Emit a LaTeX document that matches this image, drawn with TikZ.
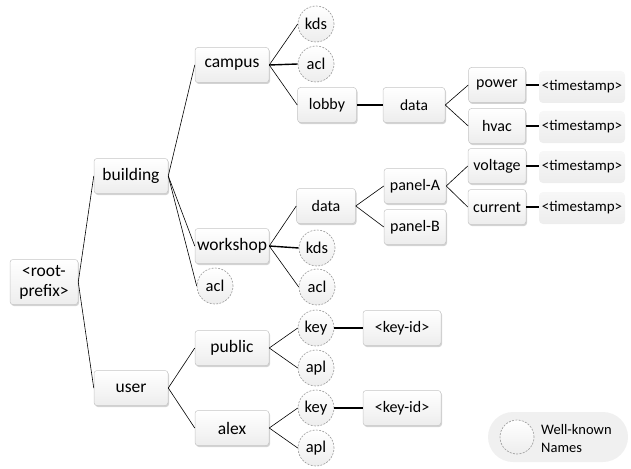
\documentclass[tikz,border=0pt]{standalone}
\usepackage{fontspec}
\setmainfont{Carlito}
\usetikzlibrary{shadows}
\begin{document}
\begin{tikzpicture}[x=1pt,y=-1pt,
  box/.style={rectangle, rounded corners=3pt, draw=gray!45, line width=0.5pt,
    top color=white, bottom color=gray!14, inner sep=0pt,
    drop shadow={shadow xshift=1pt, shadow yshift=-1.5pt, opacity=0.35, fill=gray},
    font=\fontsize{16}{18}\selectfont},
  lvA/.style={box, minimum width=74pt, minimum height=35pt, font=\fontsize{17.5}{19}\selectfont},
  lvB/.style={box, minimum width=59pt, minimum height=35pt},
  ts/.style={rectangle, rounded corners=4pt, top color=gray!6, bottom color=gray!14, inner sep=0pt,
    minimum width=86pt, minimum height=32pt, font=\fontsize{15}{17}\selectfont},
  wk/.style={circle, draw=gray!80, dash pattern=on 2pt off 1.3pt, line width=0.6pt,
    top color=white, bottom color=gray!14, inner sep=0pt, minimum size=36pt,
    font=\fontsize{16.5}{18}\selectfont},
  ln/.style={draw=black, line width=0.6pt},
  hl/.style={draw=black, line width=1.4pt}]
\useasboundingbox (0,0) rectangle (631,468);

% level 0
\node[box, minimum width=68pt, minimum height=45pt, align=center, font=\fontsize{17.5}{20}\selectfont] (root) at (44,282) {<root-\\prefix>};
% level 1
\node[lvA] (building) at (131,176) {building};
\node[lvA] (user) at (131,388) {user};
% building children
\node[lvA] (campus) at (232,65) {campus};
\node[lvA] (workshop) at (232,246) {workshop};
\node[wk] (aclB) at (215,286) {acl};
% campus children
\node[wk] (kdsC) at (316,24) {kds};
\node[wk] (aclC) at (316,64) {acl};
\node[lvB] (lobby) at (327,105) {lobby};
\node[box, minimum width=62pt, minimum height=35pt, font=\fontsize{15.5}{17}\selectfont] (dataL) at (414,105) {data};
\node[lvB, minimum width=57pt] (power) at (497,85) {power};
\node[lvB, minimum width=57pt] (hvac) at (497,126) {hvac};
\node[ts] (ts1) at (582,87) {<timestamp>};
\node[ts] (ts2) at (582,127) {<timestamp>};
% workshop children
\node[lvB] (dataW) at (326,206) {data};
\node[wk] (kdsW) at (317,248) {kds};
\node[wk] (aclW) at (317,287) {acl};
\node[lvB, minimum width=62pt] (panelA) at (415,186) {panel-A};
\node[lvB, minimum width=62pt] (panelB) at (415,227) {panel-B};
\node[lvB, minimum width=58pt] (voltage) at (497,166) {voltage};
\node[lvB, minimum width=58pt] (current) at (497,207) {current};
\node[ts] (ts3) at (582,167) {<timestamp>};
\node[ts] (ts4) at (582,208) {<timestamp>};
% user children
\node[lvA] (public) at (232,348) {public};
\node[lvA] (alex) at (232,428) {alex};
\node[wk] (keyP) at (316,328) {key};
\node[wk] (aplP) at (316,368) {apl};
\node[wk] (keyA) at (316,408) {key};
\node[wk] (aplA) at (316,448) {apl};
\node[box, minimum width=78pt, minimum height=35pt] (kidP) at (402,328) {<key-id>};
\node[box, minimum width=78pt, minimum height=35pt] (kidA) at (402,408) {<key-id>};

% legend
\node[rectangle, rounded corners=25pt, fill=gray!12, minimum width=140pt, minimum height=50pt] (legend) at (558,437) {};
\node[wk, minimum size=34pt] (legC) at (517,437) {};
\node[anchor=west, align=left, inner sep=0pt, font=\fontsize{14.5}{18}\selectfont] (legT) at (541,439) {Well-known\\Names};

% connectors
\draw[ln] (root.east) -- (building.west);
\draw[ln] (root.east) -- (user.west);
\draw[ln] (building.east) -- (campus.west);
\draw[ln] (building.east) -- (workshop.west);
\draw[ln] (building.east) -- (aclB.west);
\draw[ln] (campus.east) -- (kdsC.west);
\draw[hl] (campus.east) -- (aclC.west);
\draw[ln] (campus.east) -- (lobby.west);
\draw[hl] (lobby.east) -- (dataL.west);
\draw[ln] (dataL.east) -- (power.west);
\draw[ln] (dataL.east) -- (hvac.west);
\draw[hl] (power.east) -- (ts1.west |- power.east);
\draw[hl] (hvac.east) -- (ts2.west |- hvac.east);
\draw[ln] (workshop.east) -- (dataW.west);
\draw[hl] (workshop.east) -- (kdsW.west);
\draw[ln] (workshop.east) -- (aclW.west);
\draw[ln] (dataW.east) -- (panelA.west);
\draw[ln] (dataW.east) -- (panelB.west);
\draw[ln] (panelA.east) -- (voltage.west);
\draw[ln] (panelA.east) -- (current.west);
\draw[hl] (voltage.east) -- (ts3.west |- voltage.east);
\draw[hl] (current.east) -- (ts4.west |- current.east);
\draw[ln] (user.east) -- (public.west);
\draw[ln] (user.east) -- (alex.west);
\draw[ln] (public.east) -- (keyP.west);
\draw[ln] (public.east) -- (aplP.west);
\draw[ln] (alex.east) -- (keyA.west);
\draw[ln] (alex.east) -- (aplA.west);
\draw[hl] (keyP.east) -- (kidP.west);
\draw[hl] (keyA.east) -- (kidA.west);
\end{tikzpicture}
\end{document}
